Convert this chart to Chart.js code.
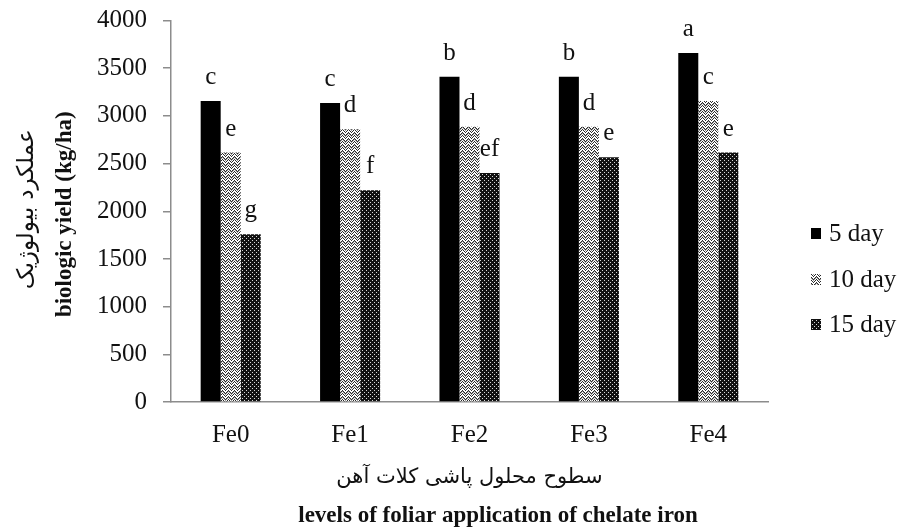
<!DOCTYPE html>
<html>
<head>
<meta charset="utf-8">
<script src="https://cdn.jsdelivr.net/npm/chart.js@4/dist/chart.umd.min.js"></script>
<style>
  html, body { margin: 0; padding: 0; background: #ffffff; }
  #wrap { width: 901px; height: 531px; }
</style>
</head>
<body>
<div id="wrap"><canvas id="myChart" width="901" height="531"></canvas></div>
<script>
// data
const categories = ['Fe0', 'Fe1', 'Fe2', 'Fe3', 'Fe4'];
const seriesNames = ['5 day', '10 day', '15 day'];
const day5 = [3155, 3135, 3410, 3410, 3660];
const day10 = [2615, 2860, 2885, 2885, 3155];
const day15 = [1760, 2220, 2400, 2565, 2615];
const letters5 = ['c', 'c', 'b', 'b', 'a'];
const letters10 = ['e', 'd', 'd', 'd', 'c'];
const letters15 = ['g', 'f', 'ef', 'e', 'e'];
const yMin = 0, yMax = 4000, yStep = 500;

const serif = "'Liberation Serif', 'Times New Roman', serif";
const persian = "'DejaVu Serif', 'DejaVu Sans', serif";

// fill patterns
function zigzag() {
    const c = document.createElement('canvas');
    c.width = 6; c.height = 6;
    const g = c.getContext('2d');
    g.fillStyle = '#ffffff';
    g.fillRect(0, 0, 6, 6);
    g.fillStyle = '#2a2a2a';
    const tri = [0, 1, 2, 3, 2, 1];
    for (let x = 0; x < 6; x++) {
        g.fillRect(x, tri[x], 1, 1);
        g.fillRect(x, (tri[x] + 3) % 6, 1, 1);
    }
    g.fillStyle = '#9a9a9a';
    for (let x = 0; x < 6; x++) {
        g.fillRect(x, (tri[x] + 1) % 6, 1, 1);
    }
    return g.createPattern(c, 'repeat');
}
function dots() {
    const c = document.createElement('canvas');
    c.width = 4; c.height = 4;
    const g = c.getContext('2d');
    g.fillStyle = '#111111';
    g.fillRect(0, 0, 4, 4);
    g.fillStyle = '#d8d8d8';
    g.fillRect(0, 0, 1, 1);
    g.fillRect(2, 2, 1, 1);
    return g.createPattern(c, 'repeat');
}
const fills = ['#000000', zigzag(), dots()];
const letters = [letters5, letters10, letters15];

const extras = {
    id: 'extras',
    afterDraw(chart) {
        const ctx = chart.ctx;
        const area = chart.chartArea;
        ctx.save();
        ctx.fillStyle = '#111';

        // letters above bars
        ctx.font = '25px ' + serif;
        ctx.textAlign = 'center';
        ctx.textBaseline = 'alphabetic';
        chart.data.datasets.forEach((ds, d) => {
            chart.getDatasetMeta(d).data.forEach((bar, i) => {
                ctx.fillText(letters[d][i], bar.x, bar.y - 17);
            });
        });

        // legend
        ctx.textAlign = 'left';
        ctx.textBaseline = 'middle';
        const legendY = [234, 280, 325];
        seriesNames.forEach((name, k) => {
            ctx.fillStyle = fills[k];
            ctx.fillRect(811, legendY[k] - 6, 10, 11);
            ctx.fillStyle = '#111';
            ctx.fillText(name, 829, legendY[k]);
        });

        // axis titles
        const midX = (area.left + area.right) / 2;
        const midY = (area.top + area.bottom) / 2;
        ctx.textAlign = 'center';
        ctx.font = '21px ' + persian;
        ctx.fillText('سطوح محلول پاشی کلات آهن', midX, 478);
        ctx.font = 'bold 23px ' + serif;
        ctx.fillText('levels of foliar application of chelate iron', 498, 516);

        ctx.save();
        ctx.translate(27, midY - 2);
        ctx.rotate(-Math.PI / 2);
        ctx.font = '23px ' + persian;
        ctx.fillText('عملکرد بیولوژیک', 0, 0);
        ctx.restore();

        ctx.save();
        ctx.translate(65, midY + 3);
        ctx.rotate(-Math.PI / 2);
        ctx.font = 'bold 23px ' + serif;
        ctx.fillText('biologic yield (kg/ha)', 0, 0);
        ctx.restore();

        ctx.restore();
    }
};

Chart.defaults.font.family = serif;
Chart.defaults.color = '#111';

const ctx = document.getElementById('myChart').getContext('2d');
const chart = new Chart(ctx, {
    type: 'bar',
    data: {
        labels: categories,
        datasets: [day5, day10, day15].map((vals, k) => ({
            label: seriesNames[k],
            data: vals,
            backgroundColor: fills[k],
            borderWidth: 0,
            categoryPercentage: 0.503,
            barPercentage: 1.0
        }))
    },
    options: {
        responsive: false,
        animation: false,
        layout: { padding: { top: 8, right: 133, bottom: 0, left: 0 } },
        plugins: {
            legend: { display: false },
            tooltip: { enabled: false }
        },
        scales: {
            x: {
                grid: { display: false, drawTicks: false },
                border: { display: true, color: '#8c8c8c', width: 1.5 },
                ticks: { font: { size: 25 }, padding: 18, color: '#111' },
                afterFit(scale) { scale.height = 129; }
            },
            y: {
                min: yMin,
                max: yMax,
                ticks: {
                    stepSize: yStep,
                    font: { size: 25, lineHeight: 0.36 },
                    padding: 16,
                    color: '#111',
                    callback: (v) => String(v)
                },
                grid: { drawOnChartArea: false, drawTicks: true, tickLength: 8, color: '#8c8c8c', lineWidth: 1.5 },
                border: { display: true, color: '#8c8c8c', width: 1.5 },
                afterFit(scale) { scale.width = 171; }
            }
        }
    },
    plugins: [extras]
});
</script>
</body>
</html>
